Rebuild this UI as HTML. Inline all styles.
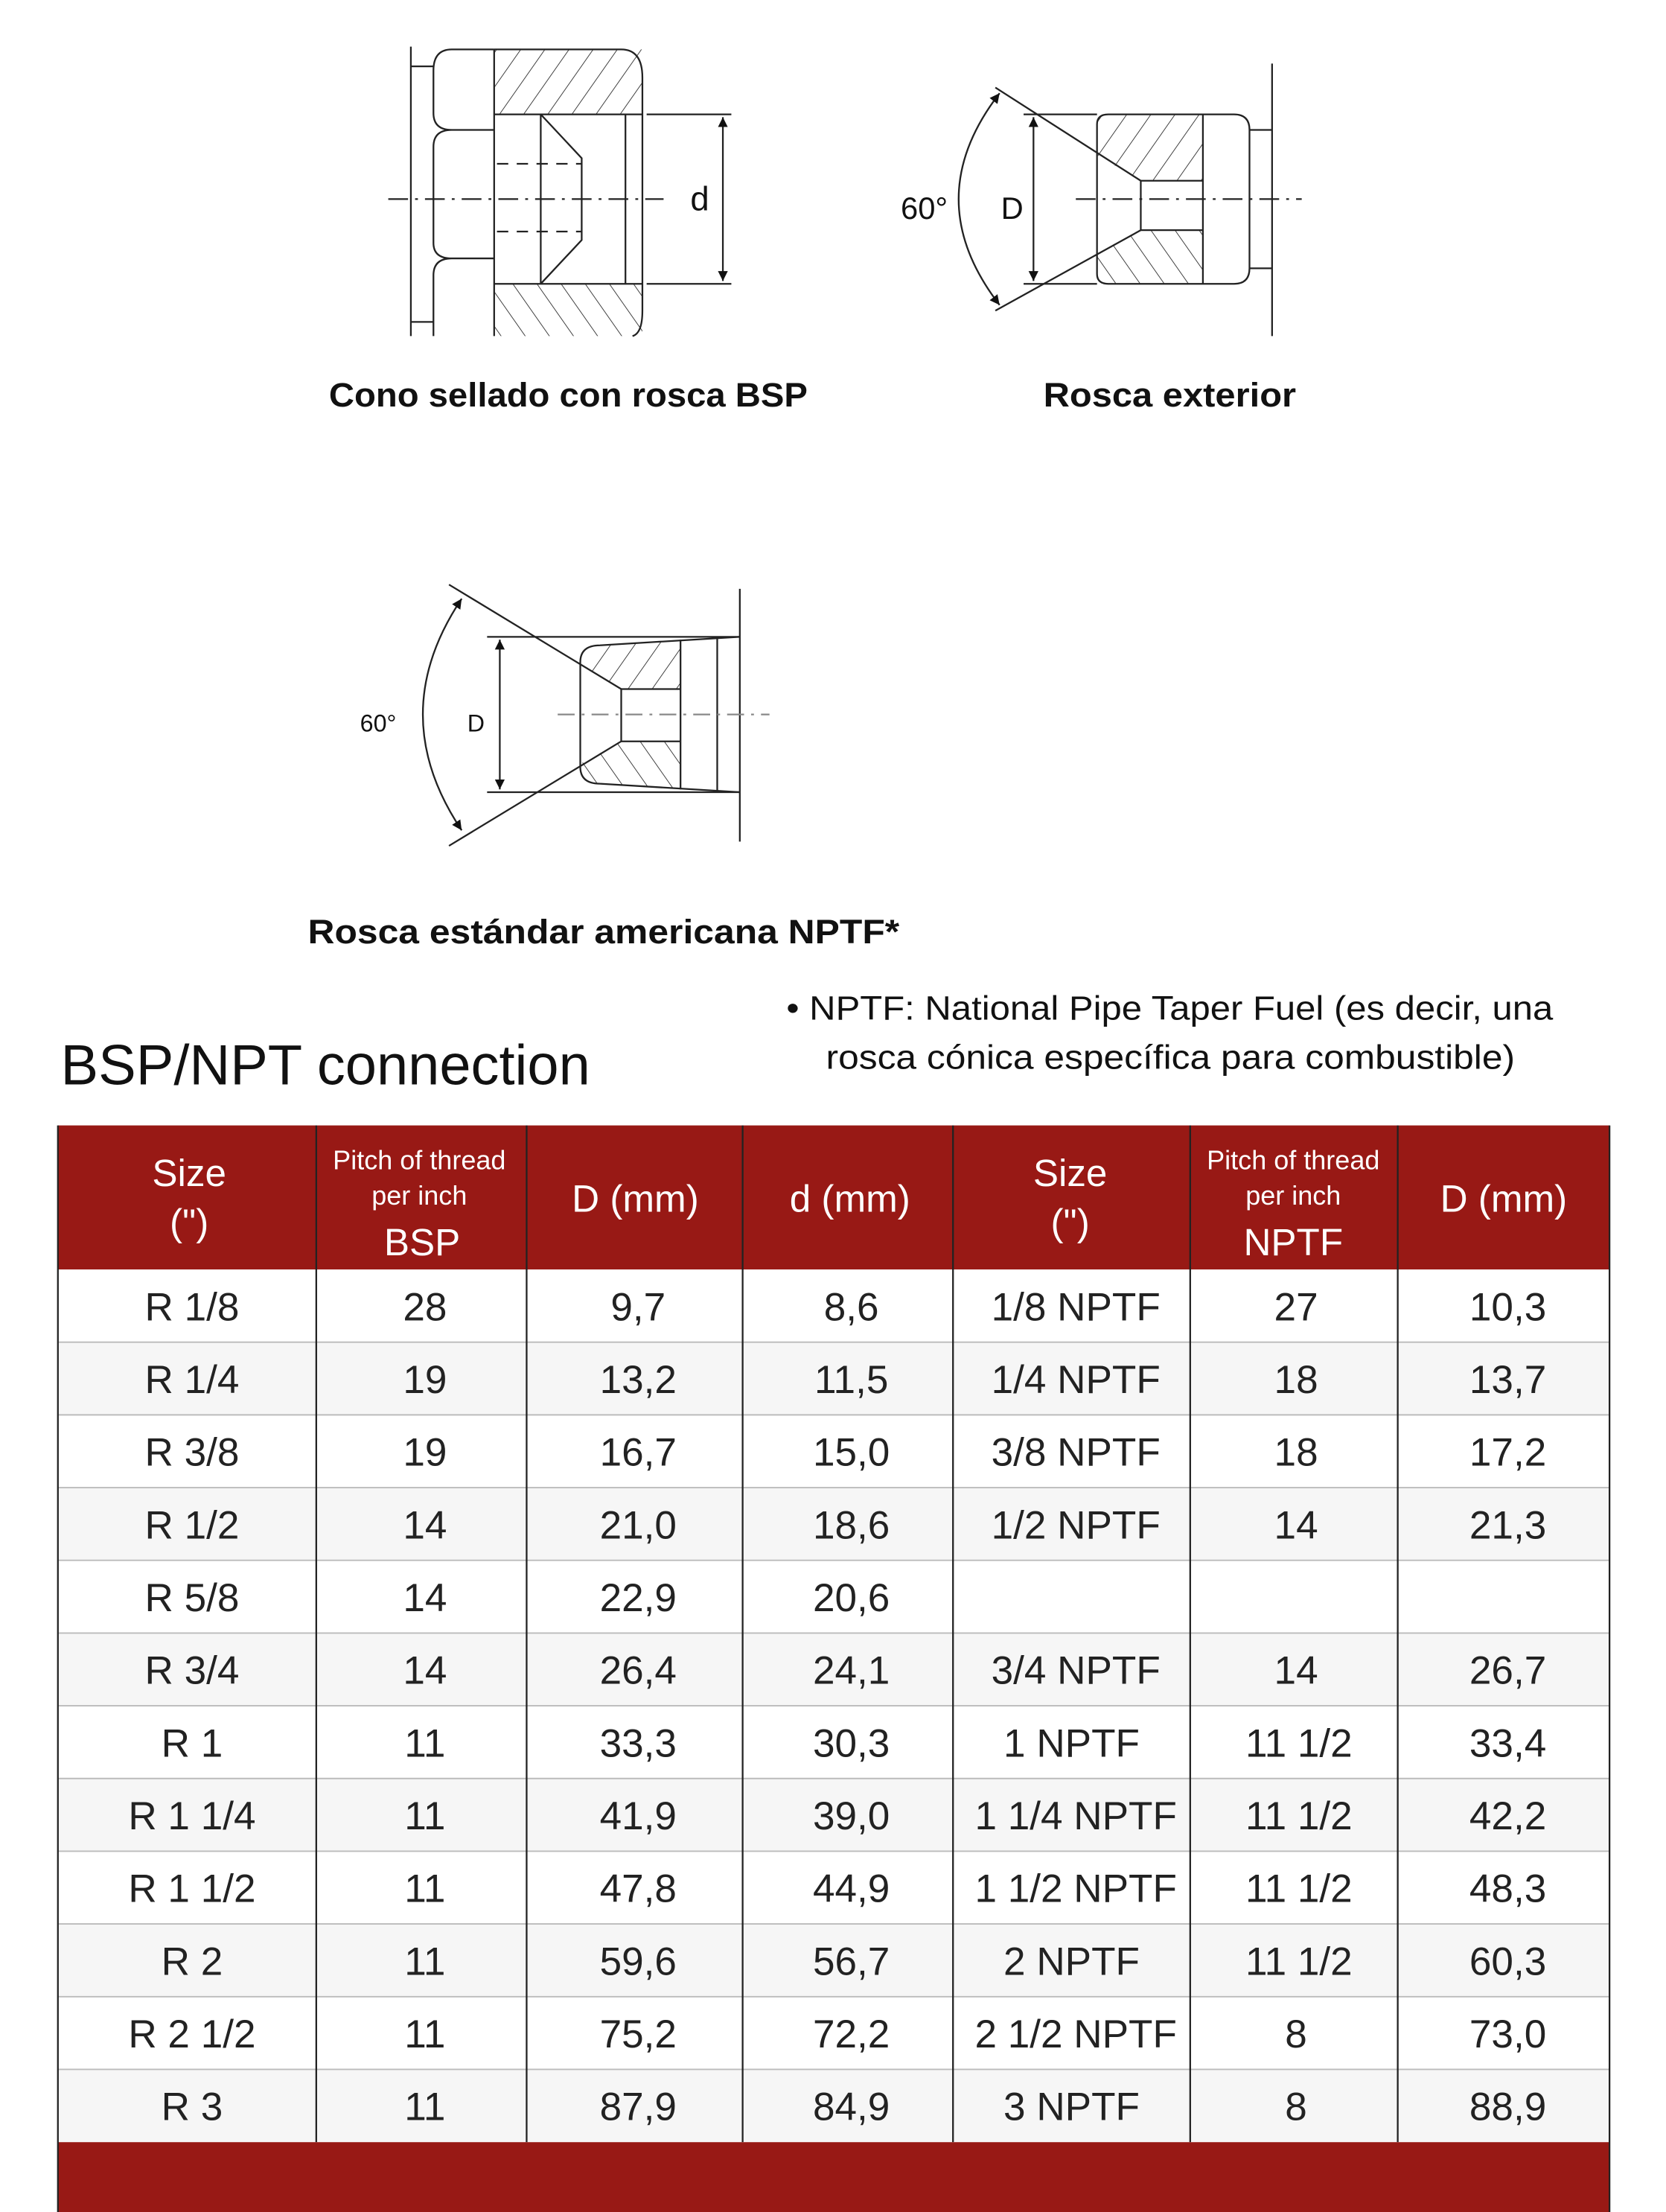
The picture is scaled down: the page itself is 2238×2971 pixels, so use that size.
<!DOCTYPE html>
<html><head><meta charset="utf-8"><style>html,body{margin:0;padding:0;background:#fff}svg{display:block}</style></head>
<body>
<svg width="2238" height="2971" viewBox="0 0 1180 1566.5" xmlns="http://www.w3.org/2000/svg" font-family="Liberation Sans, sans-serif">
<defs>
<pattern id="h" patternUnits="userSpaceOnUse" width="14" height="14" patternTransform="rotate(35)"><line x1="0" y1="0" x2="0" y2="14" stroke="#222" stroke-width="0.9"/></pattern>
<pattern id="h2" patternUnits="userSpaceOnUse" width="14" height="14" patternTransform="rotate(-35)"><line x1="0" y1="0" x2="0" y2="14" stroke="#222" stroke-width="0.9"/></pattern>
<marker id="a" viewBox="0 0 10 10" refX="10" refY="5" markerWidth="7" markerHeight="14" orient="auto-start-reverse" markerUnits="userSpaceOnUse"><path d="M0,0L10,5L0,10z" fill="#111"/></marker>
</defs>
<g stroke="#222" stroke-width="1.2" fill="none">
<!-- drawing 1 -->
<line x1="291" y1="33" x2="291" y2="238"/>
<line x1="291" y1="47" x2="307" y2="47"/><line x1="291" y1="228" x2="307" y2="228"/>
<path d="M350,35 H320 Q307,35 307,50 V80 Q307,92 320,92 H350 M320,92 Q307,92 307,104 V172 Q307,183 320,183 H350 M320,183 Q307,183 307,195 V238"/>
<rect x="350" y="35" width="105" height="46" fill="url(#h)" stroke="none"/>
<rect x="350" y="201" width="105" height="37" fill="url(#h2)" stroke="none"/>
<path d="M350,35 H440 Q455,35 455,55 V220 Q455,236 448,238"/>
<line x1="350" y1="35" x2="350" y2="238"/>
<line x1="350" y1="81" x2="455" y2="81"/><line x1="350" y1="201" x2="455" y2="201"/>
<line x1="443" y1="81" x2="443" y2="201"/>
<path d="M383,81 L412,112 V170 L383,201 M383,81 V201"/>
<path d="M352,116 H412 M352,164 H412" stroke-dasharray="8,6"/>
<line x1="275" y1="141" x2="470" y2="141" stroke-dasharray="14,5,2,5"/>
<line x1="458" y1="81" x2="518" y2="81"/><line x1="458" y1="201" x2="518" y2="201"/>
<line x1="512" y1="83" x2="512" y2="199" marker-start="url(#a)" marker-end="url(#a)"/>
<!-- drawing 2 -->
<line x1="901" y1="45" x2="901" y2="238"/>
<path d="M777,88 Q777,81 785,81 H874 Q885,81 885,92 V190 Q885,201 874,201 H785 Q777,201 777,194 Z"/>
<path d="M777,81 H852 V128 H808 L777,110 Z" fill="url(#h)" stroke="none"/>
<path d="M777,201 H852 V163 H808 L777,181 Z" fill="url(#h2)" stroke="none"/>
<line x1="852" y1="81" x2="852" y2="201"/>
<path d="M808,128 H852 M808,163 H852 M808,128 V163"/>
<path d="M885,92 H901 M885,190 H901"/>
<line x1="705" y1="62" x2="808" y2="128"/><line x1="705" y1="220" x2="808" y2="163"/>
<line x1="725" y1="81" x2="777" y2="81"/><line x1="725" y1="201" x2="777" y2="201"/>
<line x1="732" y1="83" x2="732" y2="199" marker-start="url(#a)" marker-end="url(#a)"/>
<path d="M708,66 Q650,141 708,216" marker-start="url(#a)" marker-end="url(#a)"/>
<line x1="762" y1="141" x2="922" y2="141" stroke-dasharray="14,5,2,5"/>
<!-- drawing 3 -->
<line x1="524" y1="417" x2="524" y2="596"/>
<line x1="345" y1="451" x2="524" y2="451"/><line x1="345" y1="561" x2="524" y2="561"/>
<path d="M411,469 Q411,457 425,457 L482,453 V488 H440 L411,471 Z" fill="url(#h)" stroke="none"/>
<path d="M411,543 Q411,555 425,555 L482,559 V525 H440 L411,541 Z" fill="url(#h2)" stroke="none"/>
<path d="M425,457 L524,451 M425,555 L524,561 M425,457 Q411,457 411,469 V543 Q411,555 425,555"/>
<line x1="482" y1="453" x2="482" y2="559"/><line x1="508" y1="452" x2="508" y2="560"/>
<path d="M440,488 H482 M440,525 H482 M440,488 V525"/>
<line x1="318" y1="414" x2="440" y2="488"/><line x1="318" y1="599" x2="440" y2="525"/>
<line x1="354" y1="453" x2="354" y2="559" marker-start="url(#a)" marker-end="url(#a)"/>
<path d="M327,424 Q272,506 327,588" marker-start="url(#a)" marker-end="url(#a)"/>
<line x1="395" y1="506" x2="545" y2="506" stroke="#888" stroke-dasharray="12,5,2,5"/>
</g>
<g fill="#111">
<text x="489" y="149" font-size="24">d</text>
<text x="709" y="155" font-size="22">D</text>
<text x="638" y="155" font-size="22">60°</text>
<text x="331" y="518" font-size="17">D</text>
<text x="255" y="518" font-size="17">60°</text>
<g font-weight="bold" font-size="24">
<text x="233" y="288" textLength="339" lengthAdjust="spacingAndGlyphs">Cono sellado con rosca BSP</text>
<text x="739" y="288" textLength="179" lengthAdjust="spacingAndGlyphs">Rosca exterior</text>
<text x="218" y="668" textLength="419" lengthAdjust="spacingAndGlyphs">Rosca estándar americana NPTF*</text>
</g>
<text x="557" y="722" font-size="24" textLength="543" lengthAdjust="spacingAndGlyphs">• NPTF: National Pipe Taper Fuel (es decir, una</text>
<text x="585" y="757" font-size="24" textLength="488" lengthAdjust="spacingAndGlyphs">rosca cónica específica para combustible)</text>
<text x="43" y="768" font-size="40">BSP/NPT connection</text>
</g>
<!-- table -->
<rect x="41" y="797" width="1099" height="102" fill="#981915"/>
<rect x="41" y="1517" width="1099" height="50" fill="#981915"/>
<g fill="#f6f6f6">
<rect x="41" y="950.5" width="1099" height="51.5"/><rect x="41" y="1053.5" width="1099" height="51.5"/><rect x="41" y="1156.5" width="1099" height="51.5"/><rect x="41" y="1259.5" width="1099" height="51.5"/><rect x="41" y="1362.5" width="1099" height="51.5"/><rect x="41" y="1465.5" width="1099" height="51.5"/>
</g>
<g stroke="#bbb" stroke-width="1">
<line x1="41" y1="950.5" x2="1140" y2="950.5"/><line x1="41" y1="1002" x2="1140" y2="1002"/><line x1="41" y1="1053.5" x2="1140" y2="1053.5"/><line x1="41" y1="1105" x2="1140" y2="1105"/><line x1="41" y1="1156.5" x2="1140" y2="1156.5"/><line x1="41" y1="1208" x2="1140" y2="1208"/><line x1="41" y1="1259.5" x2="1140" y2="1259.5"/><line x1="41" y1="1311" x2="1140" y2="1311"/><line x1="41" y1="1362.5" x2="1140" y2="1362.5"/><line x1="41" y1="1414" x2="1140" y2="1414"/><line x1="41" y1="1465.5" x2="1140" y2="1465.5"/>
</g>
<g stroke="#222" stroke-width="1.2">
<line x1="41" y1="797" x2="41" y2="1567"/><line x1="1140" y1="797" x2="1140" y2="1567"/>
<line x1="224" y1="797" x2="224" y2="1517"/><line x1="373" y1="797" x2="373" y2="1517"/><line x1="526" y1="797" x2="526" y2="1517"/><line x1="675" y1="797" x2="675" y2="1517"/><line x1="843" y1="797" x2="843" y2="1517"/><line x1="990" y1="797" x2="990" y2="1517"/>
</g>
<g fill="#fff" text-anchor="middle" font-size="27">
<text x="134" y="840">Size</text><text x="134" y="875">(")</text>
<text x="758" y="840">Size</text><text x="758" y="875">(")</text>
<text x="450" y="858">D (mm)</text><text x="602" y="858">d (mm)</text><text x="1065" y="858">D (mm)</text>
<text x="299" y="889">BSP</text><text x="916" y="889">NPTF</text>
<g font-size="19"><text x="297" y="828">Pitch of thread</text><text x="297" y="853">per inch</text><text x="916" y="828">Pitch of thread</text><text x="916" y="853">per inch</text></g>
</g>
<g fill="#222" text-anchor="middle" font-size="28">
<text y="935"><tspan x="136">R 1/8</tspan><tspan x="301">28</tspan><tspan x="452">9,7</tspan><tspan x="603">8,6</tspan><tspan x="762">1/8 NPTF</tspan><tspan x="918">27</tspan><tspan x="1068">10,3</tspan></text>
<text y="986.5"><tspan x="136">R 1/4</tspan><tspan x="301">19</tspan><tspan x="452">13,2</tspan><tspan x="603">11,5</tspan><tspan x="762">1/4 NPTF</tspan><tspan x="918">18</tspan><tspan x="1068">13,7</tspan></text>
<text y="1038"><tspan x="136">R 3/8</tspan><tspan x="301">19</tspan><tspan x="452">16,7</tspan><tspan x="603">15,0</tspan><tspan x="762">3/8 NPTF</tspan><tspan x="918">18</tspan><tspan x="1068">17,2</tspan></text>
<text y="1089.5"><tspan x="136">R 1/2</tspan><tspan x="301">14</tspan><tspan x="452">21,0</tspan><tspan x="603">18,6</tspan><tspan x="762">1/2 NPTF</tspan><tspan x="918">14</tspan><tspan x="1068">21,3</tspan></text>
<text y="1141"><tspan x="136">R 5/8</tspan><tspan x="301">14</tspan><tspan x="452">22,9</tspan><tspan x="603">20,6</tspan></text>
<text y="1192.5"><tspan x="136">R 3/4</tspan><tspan x="301">14</tspan><tspan x="452">26,4</tspan><tspan x="603">24,1</tspan><tspan x="762">3/4 NPTF</tspan><tspan x="918">14</tspan><tspan x="1068">26,7</tspan></text>
<text y="1244"><tspan x="136">R 1</tspan><tspan x="301">11</tspan><tspan x="452">33,3</tspan><tspan x="603">30,3</tspan><tspan x="759">1 NPTF</tspan><tspan x="920">11 1/2</tspan><tspan x="1068">33,4</tspan></text>
<text y="1295.5"><tspan x="136">R 1 1/4</tspan><tspan x="301">11</tspan><tspan x="452">41,9</tspan><tspan x="603">39,0</tspan><tspan x="762">1 1/4 NPTF</tspan><tspan x="920">11 1/2</tspan><tspan x="1068">42,2</tspan></text>
<text y="1347"><tspan x="136">R 1 1/2</tspan><tspan x="301">11</tspan><tspan x="452">47,8</tspan><tspan x="603">44,9</tspan><tspan x="762">1 1/2 NPTF</tspan><tspan x="920">11 1/2</tspan><tspan x="1068">48,3</tspan></text>
<text y="1398.5"><tspan x="136">R 2</tspan><tspan x="301">11</tspan><tspan x="452">59,6</tspan><tspan x="603">56,7</tspan><tspan x="759">2 NPTF</tspan><tspan x="920">11 1/2</tspan><tspan x="1068">60,3</tspan></text>
<text y="1450"><tspan x="136">R 2 1/2</tspan><tspan x="301">11</tspan><tspan x="452">75,2</tspan><tspan x="603">72,2</tspan><tspan x="762">2 1/2 NPTF</tspan><tspan x="918">8</tspan><tspan x="1068">73,0</tspan></text>
<text y="1501.5"><tspan x="136">R 3</tspan><tspan x="301">11</tspan><tspan x="452">87,9</tspan><tspan x="603">84,9</tspan><tspan x="759">3 NPTF</tspan><tspan x="918">8</tspan><tspan x="1068">88,9</tspan></text>
</g>
</svg>
</body></html>
